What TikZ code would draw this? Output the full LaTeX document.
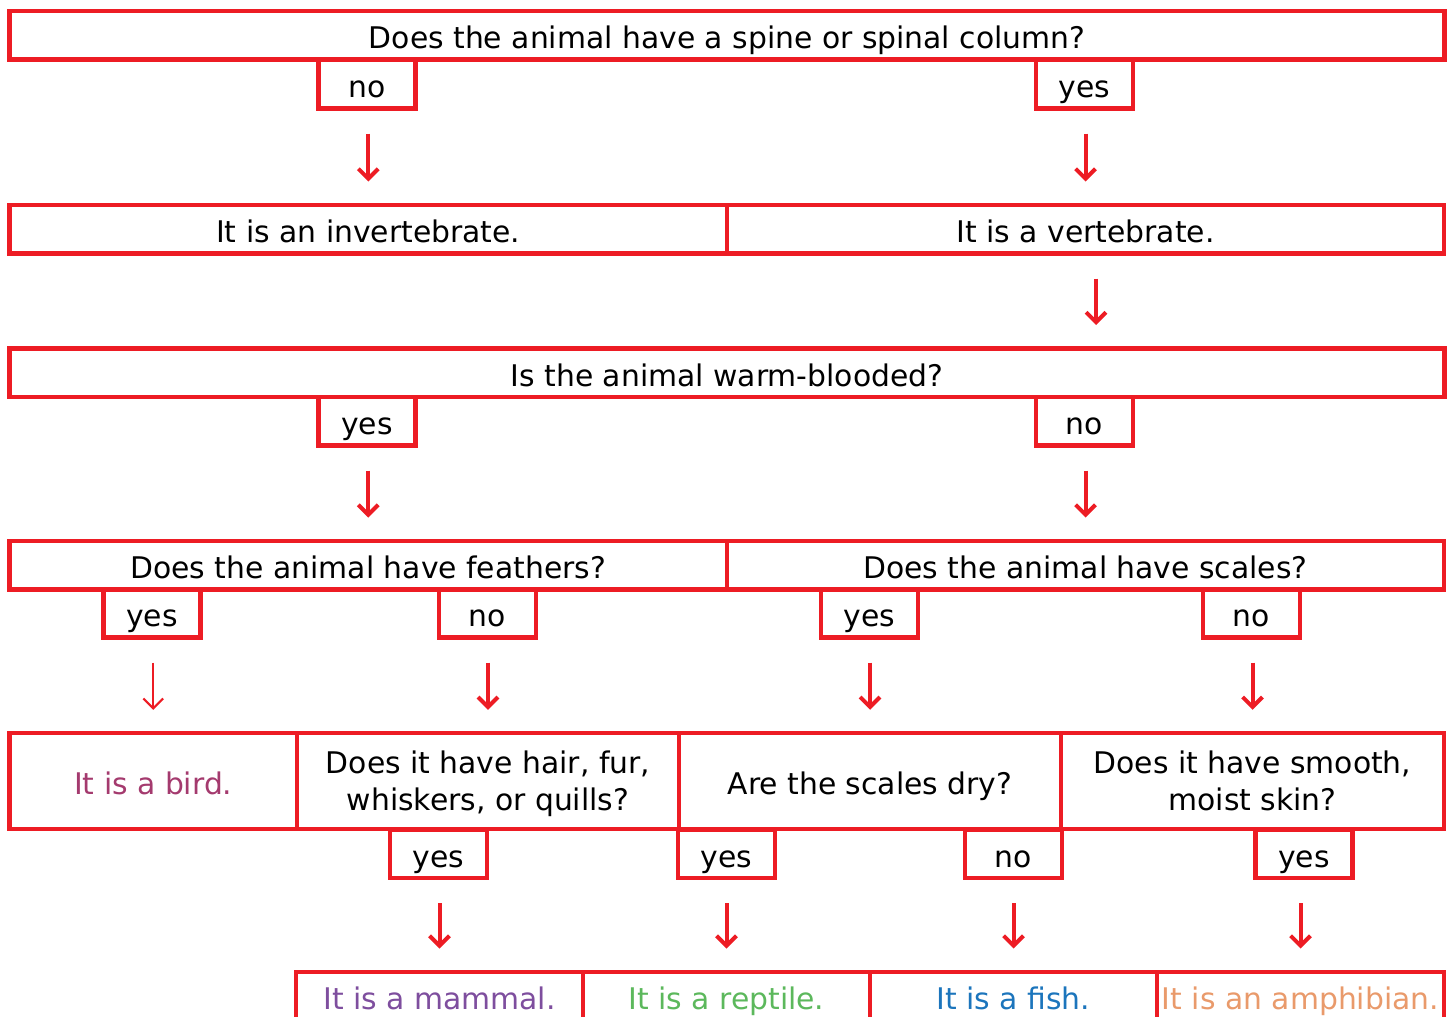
\documentclass[tikz,border=0pt]{standalone}
\usepackage{fontspec}
\setmainfont{DejaVu Sans}
\usetikzlibrary{arrows.meta}
\definecolor{keyred}{HTML}{ED1C24}
\definecolor{birdc}{HTML}{A43A6E}
\definecolor{mammalc}{HTML}{7E4E9E}
\definecolor{reptilec}{HTML}{5CB85C}
\definecolor{fishc}{HTML}{1C75BC}
\definecolor{amphic}{HTML}{E99A6B}

\begin{document}
\begin{tikzpicture}[x=1pt,y=-1pt,
    frame/.style={draw=keyred,line width=4.5pt,inner sep=0pt,minimum height=48.5pt,
      align=center,font=\fontsize{29.8}{37}\selectfont},
    box/.style={frame,text height=27pt,text depth=0pt},
    tag/.style={box,minimum width=97pt},
    down/.style={draw=keyred,line width=4pt,-{Straight Barb[angle=90:14pt]},
      shorten <=23pt,shorten >=21pt}]
  \useasboundingbox (0,0) rectangle (1452,1017);
  % questions and answers, row by row
  \node[box,minimum width=1435pt] (spine) at (727,35) {Does the animal have a spine or spinal column?};
  \node[tag] (spineno) at (367,84) {no};
  \node[tag] (spineyes) at (1084.5,84) {yes};
  \node[box,minimum width=717.5pt] (invert) at (368.25,229) {It is an invertebrate.};
  \node[box,minimum width=717pt] (vert) at (1085.5,229) {It is a vertebrate.};
  \node[box,minimum width=1435pt] (warm) at (727,372.5) {Is the animal warm-blooded?};
  \node[tag] (warmyes) at (367,421) {yes};
  \node[tag] (warmno) at (1084.5,421) {no};
  \node[box,minimum width=717.5pt] (feath) at (368.25,565) {Does the animal have feathers?};
  \node[box,minimum width=717pt] (scales) at (1085.5,565) {Does the animal have scales?};
  \node[tag] (feathyes) at (152,613) {yes};
  \node[tag] (feathno) at (487.5,613) {no};
  \node[tag] (scalesyes) at (869.5,613) {yes};
  \node[tag] (scalesno) at (1251.5,613) {no};
  \node[box,minimum width=287.5pt,minimum height=96pt,text=birdc] (bird) at (153.25,781) {It is a bird.};
  \node[frame,minimum width=382pt,minimum height=96pt] (hair) at (488,781) {\rule{0pt}{29pt}Does it have hair, fur,\\whiskers, or quills?\rule[-7pt]{0pt}{1pt}};
  \node[box,minimum width=382pt,minimum height=96pt] (dry) at (870,781) {Are the scales dry?};
  \node[frame,minimum width=383pt,minimum height=96pt] (moist) at (1252.5,781) {\rule{0pt}{29pt}Does it have smooth,\\moist skin?\rule[-7pt]{0pt}{1pt}};
  \node[tag] (hairyes) at (438.5,853.5) {yes};
  \node[tag] (dryyes) at (726.5,853.5) {yes};
  \node[tag] (dryno) at (1013.5,853.5) {no};
  \node[tag] (moistyes) at (1304,853.5) {yes};
  \node[box,minimum width=287pt,text=mammalc] (mammal) at (439.5,996) {It is a mammal.};
  \node[box,minimum width=287pt,text=reptilec] (reptile) at (726.5,996) {It is a reptile.};
  \node[box,minimum width=287pt,text=fishc] (fish) at (1013.5,996) {It is a fish.};
  \node[box,minimum width=287pt,text=amphic] (amphi) at (1300.5,996) {It is an amphibian.};
  % arrows
  \draw[down] (spineno.south -| invert.north) -- (invert.north);
  \draw[down] (spineyes.south -| vert.north) -- (vert.north);
  \draw[down] ([xshift=10.5pt]vert.south) -- ([xshift=10.5pt]vert.south |- warm.north);
  \draw[down] (warmyes.south -| feath.north) -- (feath.north);
  \draw[down] (warmno.south -| scales.north) -- (scales.north);
  \draw[down,line width=2pt] (feathyes.south -| bird.north) -- (bird.north);
  \draw[down] (feathno.south -| hair.north) -- (hair.north);
  \draw[down] (scalesyes.south -| dry.north) -- (dry.north);
  \draw[down] (scalesno.south -| moist.north) -- (moist.north);
  \draw[down] (hairyes.south -| mammal.north) -- (mammal.north);
  \draw[down] (dryyes.south -| reptile.north) -- (reptile.north);
  \draw[down] (dryno.south -| fish.north) -- (fish.north);
  \draw[down] (moistyes.south -| amphi.north) -- (amphi.north);
\end{tikzpicture}
\end{document}
